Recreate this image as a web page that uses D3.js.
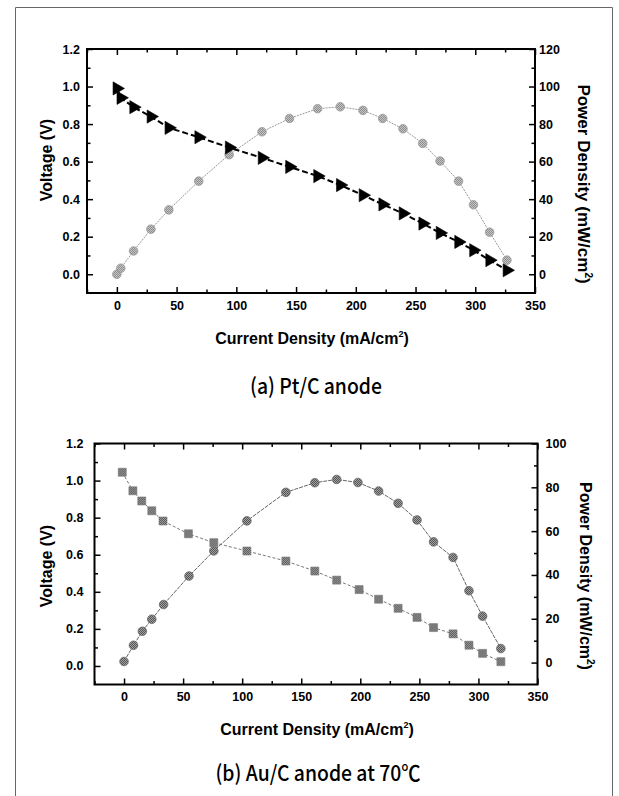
<!DOCTYPE html>
<html>
<head>
<meta charset="utf-8">
<script src="https://cdn.jsdelivr.net/npm/d3@7"></script>
<style>
  body { margin: 0; background: #fff; }
  svg text { font-family: "Liberation Sans", Arial, sans-serif; }
</style>
</head>
<body>
<div id="chart"></div>
<script>
// (a) Pt/C anode
const ptCurrent = [0, 3.3, 14, 28.5, 43.5, 68.5, 94, 121.5, 144.5, 168, 187, 206, 222.5, 239.5, 256, 270.5, 286, 298.5, 312, 326.5];
const ptVoltage = [0.99, 0.94, 0.89, 0.84, 0.78, 0.73, 0.675, 0.62, 0.572, 0.523, 0.475, 0.421, 0.372, 0.324, 0.27, 0.22, 0.172, 0.128, 0.075, 0.021];
const ptPower = [0, 3.2, 12.4, 24, 34.3, 49.6, 63.7, 75.9, 83, 88.2, 89.2, 87.3, 83, 77.5, 69.7, 60.3, 49.6, 37, 22.4, 7.5];

// (b) Au/C anode at 70C
const auCurrentV = [-1.5, 7.5, 15, 23.5, 33, 54.5, 76, 104, 137, 161.5, 180, 199, 215.5, 232, 248, 262, 278.5, 292, 303.5, 319];
const auVoltage = [1.045, 0.945, 0.89, 0.837, 0.782, 0.713, 0.665, 0.62, 0.566, 0.512, 0.463, 0.412, 0.36, 0.311, 0.262, 0.207, 0.173, 0.112, 0.068, 0.023];
const auCurrentP = [0, 8, 15.5, 23.5, 33.5, 55, 76, 104, 137, 161.5, 180, 198, 215.5, 232, 248, 262, 278.5, 292, 303.5, 319];
const auPower = [0.5, 7.9, 14.3, 19.8, 26.5, 39.5, 51, 64.7, 77.7, 82.1, 83.6, 82.2, 78.3, 72.7, 65.1, 55.1, 48, 32.8, 21.2, 6.4];

const xTicks = [0, 50, 100, 150, 200, 250, 300, 350];
const voltTicks = [0.0, 0.2, 0.4, 0.6, 0.8, 1.0, 1.2];
const powerTicksA = [0, 20, 40, 60, 80, 100, 120];
const powerTicksB = [0, 20, 40, 60, 80, 100];

const width = 619;
const height = 796;

const svg = d3.select("#chart").append("svg")
    .attr("width", width)
    .attr("height", height)
    .style("background", "#fff");

// hatch-like fills for the scanned markers
const defs = svg.append("defs");
function checker(id, bg, fg) {
    const p = defs.append("pattern")
        .attr("id", id)
        .attr("width", 2).attr("height", 2)
        .attr("patternUnits", "userSpaceOnUse");
    p.append("rect").attr("width", 2).attr("height", 2).attr("fill", bg);
    p.append("rect").attr("width", 1).attr("height", 1).attr("fill", fg);
    p.append("rect").attr("x", 1).attr("y", 1).attr("width", 1).attr("height", 1).attr("fill", fg);
}
checker("lightDots", "#c4c4c4", "#8e8e8e");
checker("darkDots", "#a0a0a0", "#555");

// page border
svg.append("path")
    .attr("d", "M15.5,796 L15.5,7.5 L612.5,7.5 L612.5,796")
    .attr("fill", "none")
    .attr("stroke", "#666")
    .attr("stroke-width", 1);

function drawPanel(p) {
    const g = svg.append("g");
    const x = d3.scaleLinear().domain([-25, 350]).range([p.left, p.right]);
    const yL = d3.scaleLinear().domain([-0.1, 1.2]).range([p.bottom, p.top]);
    const yR = d3.scaleLinear().domain(p.rightDomain).range([p.bottom, p.top]);

    const minorX = d3.range(-25, 351, 25).filter(v => v % 50 !== 0);
    const minorVolt = [0.1, 0.3, 0.5, 0.7, 0.9, 1.1];
    const minorPow = d3.range(10, p.rightDomain[1], 20);

    const styleAxis = sel => {
        sel.select(".domain").remove();
        sel.selectAll("line").attr("stroke", "#000").attr("stroke-width", 1.5);
        sel.selectAll("text")
            .attr("fill", "#000")
            .style("font-size", "12.5px")
            .style("font-weight", "bold");
    };

    // major + minor ticks, all pointing into the frame
    g.append("g").attr("transform", `translate(0,${p.bottom})`)
        .call(d3.axisBottom(x).tickValues(xTicks).tickSize(-6).tickPadding(8).tickFormat(d3.format("d")))
        .call(styleAxis);
    g.append("g").attr("transform", `translate(0,${p.bottom})`)
        .call(d3.axisBottom(x).tickValues(minorX).tickSize(-3.5).tickFormat(""))
        .call(styleAxis);
    g.append("g").attr("transform", `translate(0,${p.top})`)
        .call(d3.axisTop(x).tickValues(xTicks).tickSize(-6).tickFormat(""))
        .call(styleAxis);
    g.append("g").attr("transform", `translate(0,${p.top})`)
        .call(d3.axisTop(x).tickValues(minorX).tickSize(-3.5).tickFormat(""))
        .call(styleAxis);

    g.append("g").attr("transform", `translate(${p.left},0)`)
        .call(d3.axisLeft(yL).tickValues(voltTicks).tickSize(-6).tickPadding(p.leftPad).tickFormat(d3.format(".1f")))
        .call(styleAxis);
    g.append("g").attr("transform", `translate(${p.left},0)`)
        .call(d3.axisLeft(yL).tickValues(minorVolt).tickSize(-3.5).tickFormat(""))
        .call(styleAxis);

    g.append("g").attr("transform", `translate(${p.right},0)`)
        .call(d3.axisRight(yR).tickValues(p.powerTicks).tickSize(-6).tickPadding(p.rightPad).tickFormat(d3.format("d")))
        .call(styleAxis);
    g.append("g").attr("transform", `translate(${p.right},0)`)
        .call(d3.axisRight(yR).tickValues(minorPow).tickSize(-3.5).tickFormat(""))
        .call(styleAxis);

    // frame
    g.append("rect")
        .attr("x", p.left).attr("y", p.top)
        .attr("width", p.right - p.left).attr("height", p.bottom - p.top)
        .attr("fill", "none").attr("stroke", "#000").attr("stroke-width", 2);

    // power curve
    const powerPts = p.powerX.map((c, i) => [c, p.power[i]]);
    g.append("path")
        .datum(powerPts)
        .attr("d", d3.line().x(d => x(d[0])).y(d => yR(d[1])))
        .attr("fill", "none")
        .attr("stroke", p.powerLine)
        .attr("stroke-width", 1)
        .attr("stroke-dasharray", p.powerDash);
    // voltage curve
    const voltPts = p.voltX.map((c, i) => [c, p.volt[i]]);
    g.append("path")
        .datum(voltPts)
        .attr("d", d3.line().x(d => x(d[0])).y(d => yL(d[1])))
        .attr("fill", "none")
        .attr("stroke", p.voltLine)
        .attr("stroke-width", p.voltWidth)
        .attr("stroke-dasharray", p.voltDash);

    g.selectAll(".pw")
        .data(powerPts)
        .enter().append("circle")
        .attr("cx", d => x(d[0]))
        .attr("cy", d => yR(d[1]))
        .attr("r", 4.3)
        .attr("fill", p.powerFill)
        .attr("stroke", p.powerStroke)
        .attr("stroke-width", 0.8);

    g.selectAll(".vt")
        .data(voltPts)
        .enter().append("path")
        .attr("d", d3.symbol(p.voltSymbol, p.voltSize))
        .attr("transform", d => `translate(${x(d[0])},${yL(d[1])}) rotate(${p.voltRotate})`)
        .attr("fill", p.voltFill)
        .attr("stroke", p.voltStroke)
        .attr("stroke-width", 0.6);

    // axis titles
    const cx = (p.left + p.right) / 2;
    const xt = g.append("text")
        .attr("x", cx + 1).attr("y", p.xTitleY)
        .attr("text-anchor", "middle")
        .style("font-size", "16px").style("font-weight", "bold");
    xt.append("tspan").text("Current Density (mA/cm");
    xt.append("tspan").attr("dy", -7).style("font-size", "9px").text("2");
    xt.append("tspan").attr("dy", 7).text(")");

    g.append("text")
        .attr("transform", `translate(${p.leftTitleX},${p.leftTitleY}) rotate(-90)`)
        .attr("text-anchor", "middle")
        .style("font-size", "16px").style("font-weight", "bold")
        .text("Voltage (V)");

    const rt = g.append("text")
        .attr("transform", `translate(${p.rightTitleX},${p.rightTitleY}) rotate(90)`)
        .attr("text-anchor", "middle")
        .style("font-size", p.rightTitleSize).style("font-weight", "bold");
    rt.append("tspan").text("Power Density (mW/cm");
    rt.append("tspan").attr("dy", -7).style("font-size", "10px").text("2");
    rt.append("tspan").attr("dy", 7).text(")");

    svg.append("text")
        .attr("transform", `translate(${p.captionX},${p.captionY}) scale(0.9,1)`)
        .attr("text-anchor", "middle")
        .style("font-family", "'Noto Sans CJK KR', 'Noto Sans', sans-serif")
        .style("font-size", "21.5px")
        .style("font-weight", 500)
        .text(p.caption);
}

drawPanel({
    left: 87, right: 535, top: 49, bottom: 293,
    rightDomain: [-10, 120], powerTicks: powerTicksA,
    leftPad: 7, rightPad: 4,
    voltX: ptCurrent, volt: ptVoltage, powerX: ptCurrent, power: ptPower,
    voltSymbol: d3.symbolTriangle, voltSize: 75, voltRotate: 90,
    voltFill: "#000", voltStroke: "#000", voltLine: "#000", voltWidth: 2, voltDash: "6,3",
    powerFill: "url(#lightDots)", powerStroke: "#9a9a9a", powerLine: "#999", powerDash: "2,1",
    xTitleY: 344, leftTitleX: 52, leftTitleY: 160,
    rightTitleX: 578, rightTitleY: 184, rightTitleSize: "17px",
    caption: "(a) Pt/C anode", captionX: 316, captionY: 394
});

drawPanel({
    left: 94.5, right: 537.5, top: 443.5, bottom: 684.5,
    rightDomain: [-10, 100], powerTicks: powerTicksB,
    leftPad: 11, rightPad: 8,
    voltX: auCurrentV, volt: auVoltage, powerX: auCurrentP, power: auPower,
    voltSymbol: d3.symbolSquare, voltSize: 64, voltRotate: 0,
    voltFill: "url(#darkDots)", voltStroke: "#777", voltLine: "#777", voltWidth: 1, voltDash: "3,2",
    powerFill: "url(#darkDots)", powerStroke: "#666", powerLine: "#666", powerDash: "4,1",
    xTitleY: 735, leftTitleX: 52, leftTitleY: 566,
    rightTitleX: 580, rightTitleY: 576, rightTitleSize: "16px",
    caption: "(b) Au/C anode at 70℃", captionX: 318, captionY: 781
});
</script>
</body>
</html>
